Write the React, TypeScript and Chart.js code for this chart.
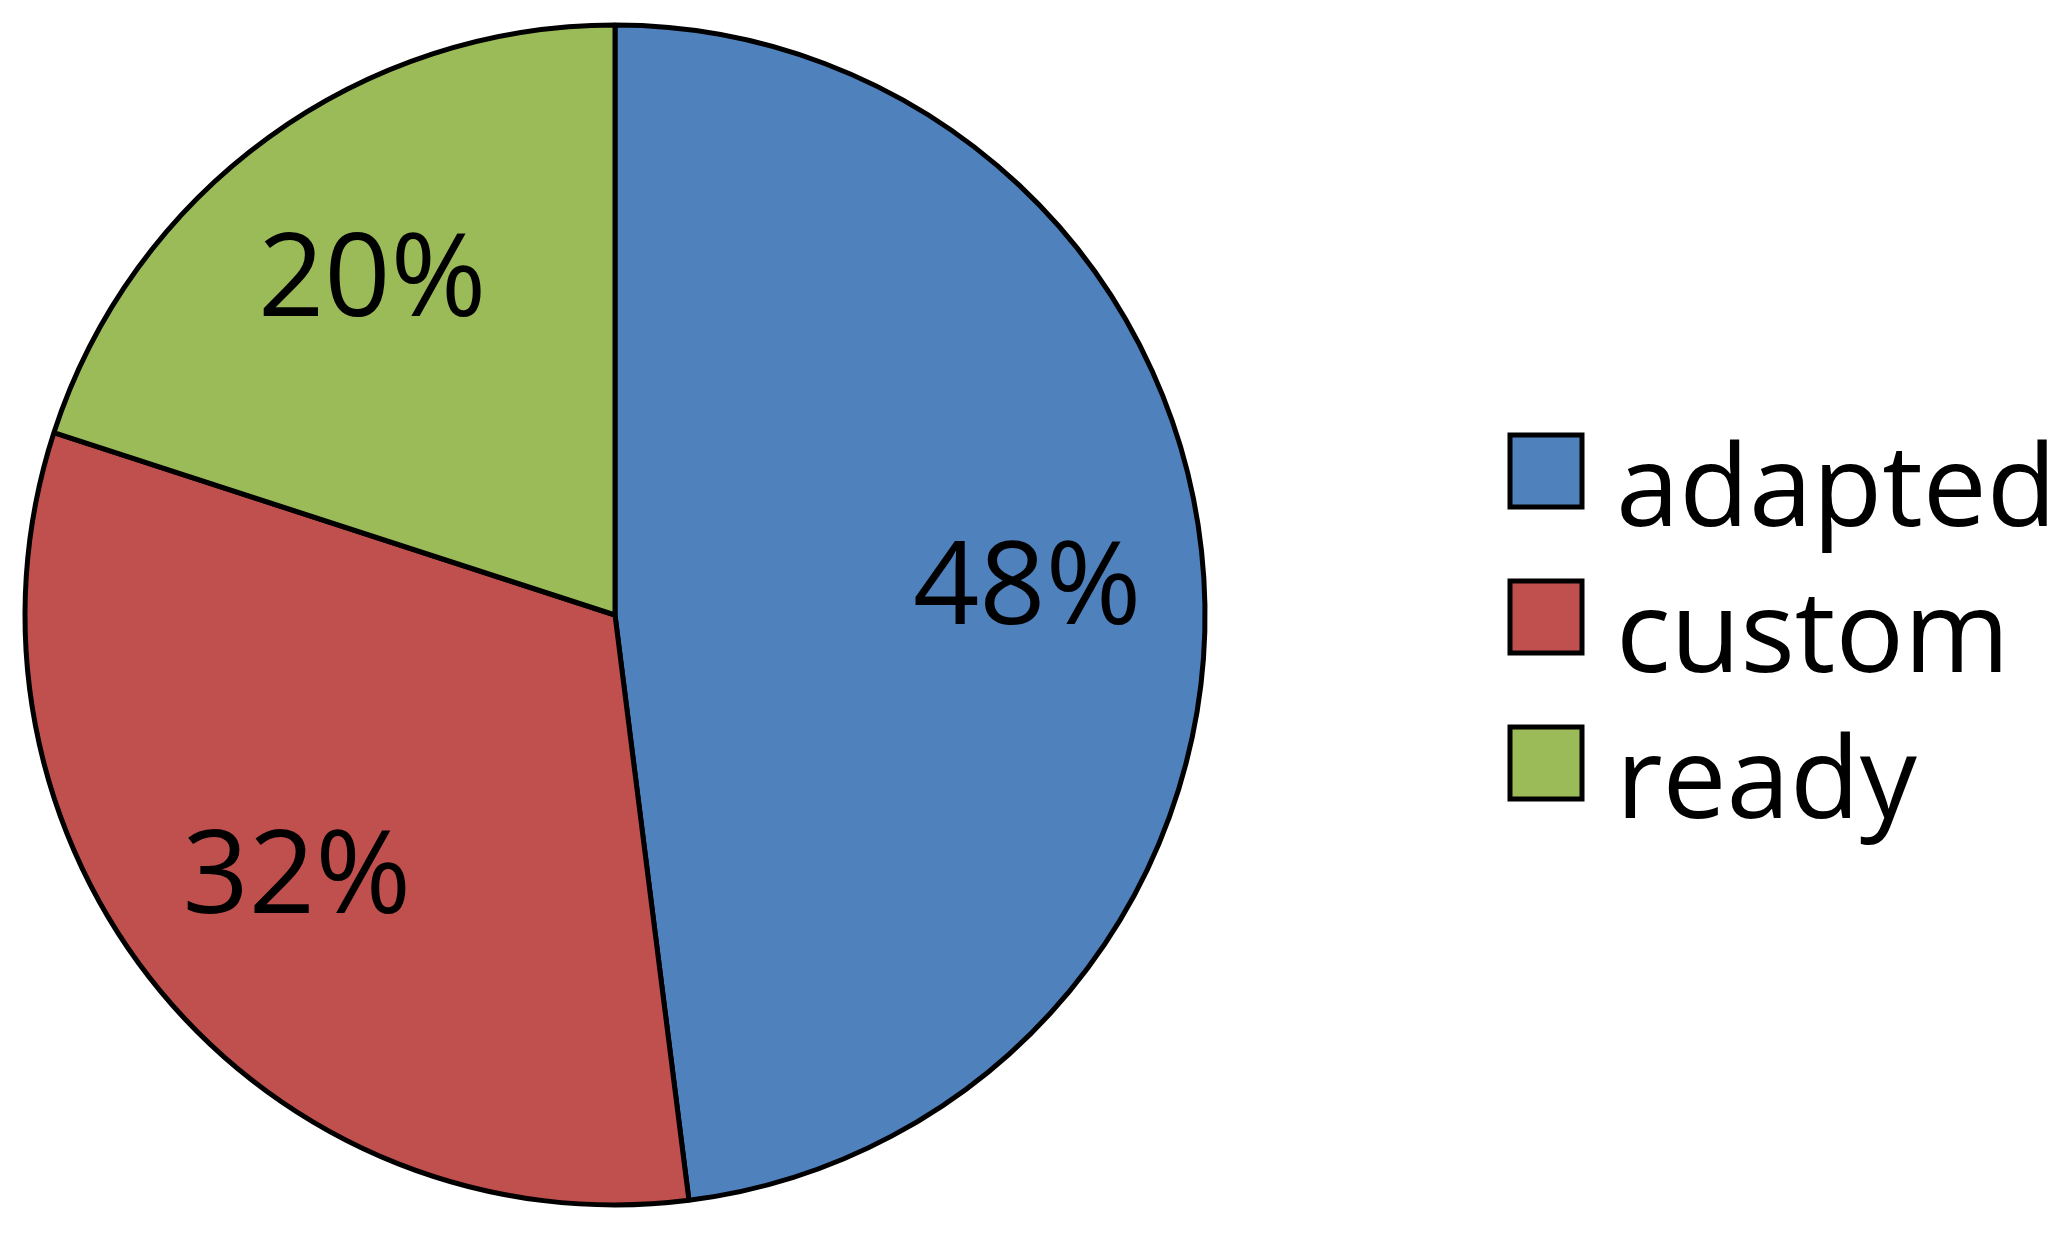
import React, { useEffect, useRef } from "react";
import { Chart, registerables } from "chart.js";

Chart.register(...registerables);

const categories = ["adapted", "custom", "ready"];
const shares = [48, 32, 20];
const sliceColors = ["#4F81BD", "#C0504D", "#9BBB59"];

const FONT = "'Open Sans', 'Noto Sans', sans-serif";

const sliceLabelPlugin = {
  id: "sliceLabels",
  afterDatasetsDraw(chart: any) {
    const ctx = chart.ctx;
    const meta = chart.getDatasetMeta(0);
    const data = chart.data.datasets[0].data as number[];
    const total = data.reduce((a, b) => a + b, 0);
    ctx.save();
    ctx.fillStyle = "#000";
    ctx.font = `116px ${FONT}`;
    ctx.textAlign = "center";
    ctx.textBaseline = "middle";
    meta.data.forEach((arc: any, i: number) => {
      const { x, y, startAngle, endAngle, outerRadius } = arc.getProps(
        ["x", "y", "startAngle", "endAngle", "outerRadius"],
        true
      );
      const mid = (startAngle + endAngle) / 2;
      const r = outerRadius * 0.7;
      const lx = x + Math.cos(mid) * r;
      const ly = y + Math.sin(mid) * r;
      ctx.fillText(`${Math.round((data[i] / total) * 100)}%`, lx, ly + 2);
    });
    ctx.restore();
  },
};

const legendPlugin = {
  id: "sideLegend",
  afterDraw(chart: any) {
    const ctx = chart.ctx;
    const labels = chart.data.labels as string[];
    const colors = chart.data.datasets[0].backgroundColor as string[];
    ctx.save();
    labels.forEach((lab, i) => {
      const bx = 1510;
      const by = 435 + i * 146;
      const size = 72;
      ctx.fillStyle = colors[i];
      ctx.fillRect(bx, by, size, size);
      ctx.strokeStyle = "#000";
      ctx.lineWidth = 5;
      ctx.strokeRect(bx, by, size, size);
      ctx.fillStyle = "#000";
      ctx.font = `114px ${FONT}`;
      ctx.textAlign = "left";
      ctx.textBaseline = "alphabetic";
      ctx.fillText(lab, 1616, by + 91);
    });
    ctx.restore();
  },
};

export default function App() {
  const ref = useRef<HTMLCanvasElement>(null);
  useEffect(() => {
    document.body.style.margin = "0";
    const chart = new Chart(ref.current!, {
      type: "pie",
      data: {
        labels: categories,
        datasets: [
          {
            data: shares,
            backgroundColor: sliceColors,
            borderColor: "#000",
            borderWidth: 5,
            radius: 590,
          } as any,
        ],
      },
      options: {
        animation: false,
        responsive: false,
        events: [],
        layout: { padding: { left: 0, top: 0, right: 827, bottom: 3 } },
        plugins: {
          legend: { display: false },
          tooltip: { enabled: false },
        },
      },
      plugins: [sliceLabelPlugin, legendPlugin],
    });
    return () => chart.destroy();
  }, []);
  return (
    <div style={{ width: 2057, height: 1233, background: "#fff" }}>
      <canvas ref={ref} width={2057} height={1233} style={{ display: "block" }} />
    </div>
  );
}
